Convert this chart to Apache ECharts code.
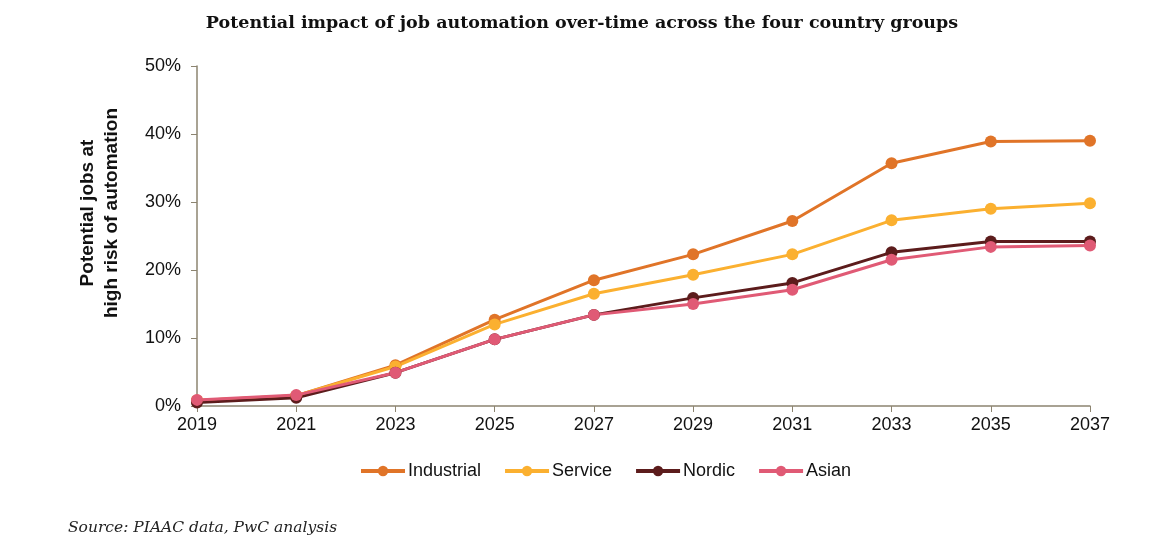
<!DOCTYPE html>
<html><head><meta charset="utf-8">
<script src="https://cdn.jsdelivr.net/npm/echarts@6/dist/echarts.min.js"></script>
<style>html,body{margin:0;padding:0;background:#fff}#c{width:1164px;height:539px}</style>
</head><body><div id="c"></div>
<script>
const years = ['2019','2021','2023','2025','2027','2029','2031','2033','2035','2037'];
const industrial = [0.8, 1.5, 6.0, 12.7, 18.5, 22.3, 27.2, 35.7, 38.9, 39.0];
const service    = [0.8, 1.5, 5.8, 12.0, 16.5, 19.3, 22.3, 27.3, 29.0, 29.8];
const nordic     = [0.5, 1.2, 4.9, 9.8, 13.4, 15.9, 18.1, 22.6, 24.2, 24.2];
const asian      = [0.9, 1.6, 4.9, 9.8, 13.4, 15.0, 17.1, 21.5, 23.4, 23.6];
const yTicks = [0, 10, 20, 30, 40, 50];

const chart = echarts.init(document.getElementById('c'));
function mk(name, data, color){
  return {name, type:'line', data, symbol:'circle', symbolSize:12,
    lineStyle:{width:3,color}, itemStyle:{color}, z: 2};
}
chart.setOption({
  animation:false,
  title:{text:'Potential impact of job automation over-time across the four country groups',
    left:'center', top:9,
    textStyle:{fontFamily:'DejaVu Serif', fontWeight:'bold', fontSize:17.5, color:'#111'}},
  grid:{left:197, right:74, top:66, bottom:133},
  legend:{top:462, left:359, padding:0, itemWidth:44, itemHeight:13, itemGap:22,
    lineStyle:{width:4},
    textStyle:{fontFamily:'Liberation Sans', fontSize:18, color:'#111', padding:[0,0,0,-2]}},
  xAxis:{type:'category', data:years, boundaryGap:false,
    axisLine:{lineStyle:{color:'#8c8470', width:1.5}},
    axisTick:{show:true, alignWithLabel:true, length:6, lineStyle:{color:'#8c8470'}},
    axisLabel:{fontFamily:'Liberation Sans', fontSize:18, color:'#111', margin:10}},
  yAxis:{type:'value', min:yTicks[0], max:yTicks[yTicks.length-1], interval:10,
    axisLine:{show:true, lineStyle:{color:'#8c8470', width:1.5}},
    axisTick:{show:true, length:6, lineStyle:{color:'#8c8470'}},
    splitLine:{show:false},
    axisLabel:{fontFamily:'Liberation Sans', fontSize:18, color:'#111', margin:16, formatter:'{value}%'}},
  graphic:[
    {type:'text', left:76, top:108, rotation:Math.PI/2,
     style:{text:'Potential jobs at\nhigh risk of automation', fontFamily:'Liberation Sans', fontWeight:'bold',
       fontSize:19, lineHeight:24, fill:'#111', textAlign:'center'}},
    {type:'text', left:68, top:520,
     style:{text:'Source: PIAAC data, PwC analysis', fontFamily:'DejaVu Serif', fontStyle:'italic',
       fontSize:15.5, fill:'#222'}}
  ],
  series:[
    mk('Industrial', industrial, '#e07428'),
    mk('Service', service, '#fbb030'),
    mk('Nordic', nordic, '#5c1c1c'),
    mk('Asian', asian, '#e05a75')
  ]
});
</script></body></html>
